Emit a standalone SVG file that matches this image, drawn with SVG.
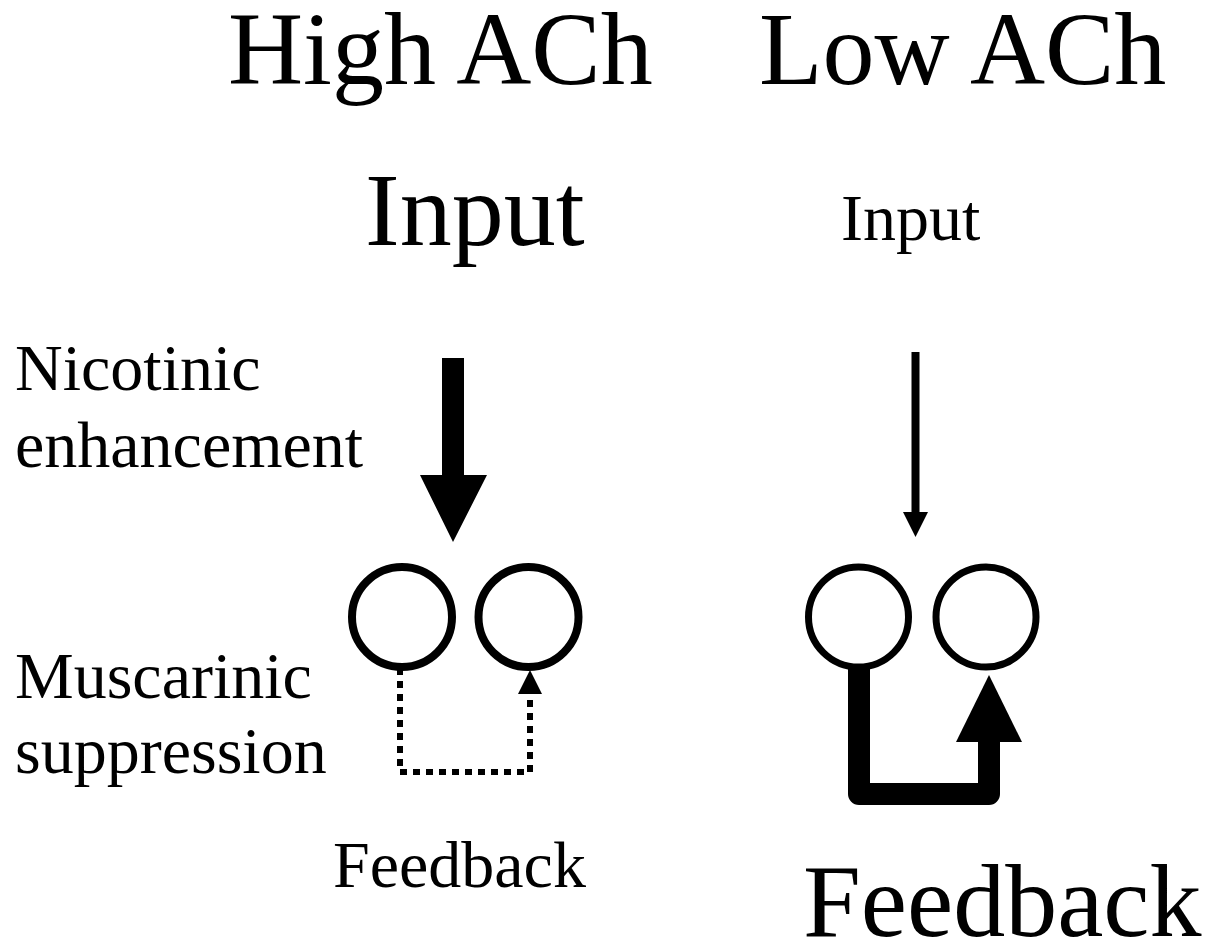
<svg xmlns="http://www.w3.org/2000/svg" width="1212" height="941" viewBox="0 0 1212 941">
<style>
text { font-family: "Liberation Serif", "Times New Roman", serif; fill: #000; }
.big { font-size: 104px; }
.mid { font-size: 66px; }
.cell { fill: #fff; stroke: #000; }
</style>
<rect width="1212" height="941" fill="#fff"/>
<g id="titles">
<text class="big" x="228" y="84">High ACh</text>
<text class="big" x="759" y="84">Low ACh</text>
</g>
<g id="labels">
<text class="big" x="365" y="245">Input</text>
<text class="mid" x="841" y="240">Input</text>
<text class="mid" x="15" y="390">Nicotinic</text>
<text class="mid" x="15" y="467">enhancement</text>
<text class="mid" x="15" y="698">Muscarinic</text>
<text class="mid" x="15" y="773">suppression</text>
<text class="mid" x="333" y="887">Feedback</text>
<text class="big" x="803" y="936">Feedback</text>
</g>
<g id="high-cell-1"><circle class="cell" cx="402" cy="617" r="50" stroke-width="8"/></g>
<g id="high-cell-2"><circle class="cell" cx="528.5" cy="617" r="50" stroke-width="8"/></g>
<g id="low-cell-1"><circle class="cell" cx="858.5" cy="617" r="50" stroke-width="7"/></g>
<g id="low-cell-2"><circle class="cell" cx="986" cy="617" r="50" stroke-width="7"/></g>
<g id="connectors">
<polygon points="442,358 464,358 464,475 487,475 453,542 420,475 442,475" fill="#000"/>
<path d="M400 668 V772 H530 V694" fill="none" stroke="#000" stroke-width="6" stroke-dasharray="7,6"/>
<polygon points="530,670 518,694 542,694" fill="#000"/>
<line x1="915.5" y1="352" x2="915.5" y2="513" stroke="#000" stroke-width="8"/>
<polygon points="903,512 928,512 915.5,537" fill="#000"/>
<path d="M859 668 V794 H989 V742" fill="none" stroke="#000" stroke-width="22" stroke-linejoin="round"/>
<polygon points="956,742 1022,742 989,675" fill="#000"/>
</g>
</svg>
